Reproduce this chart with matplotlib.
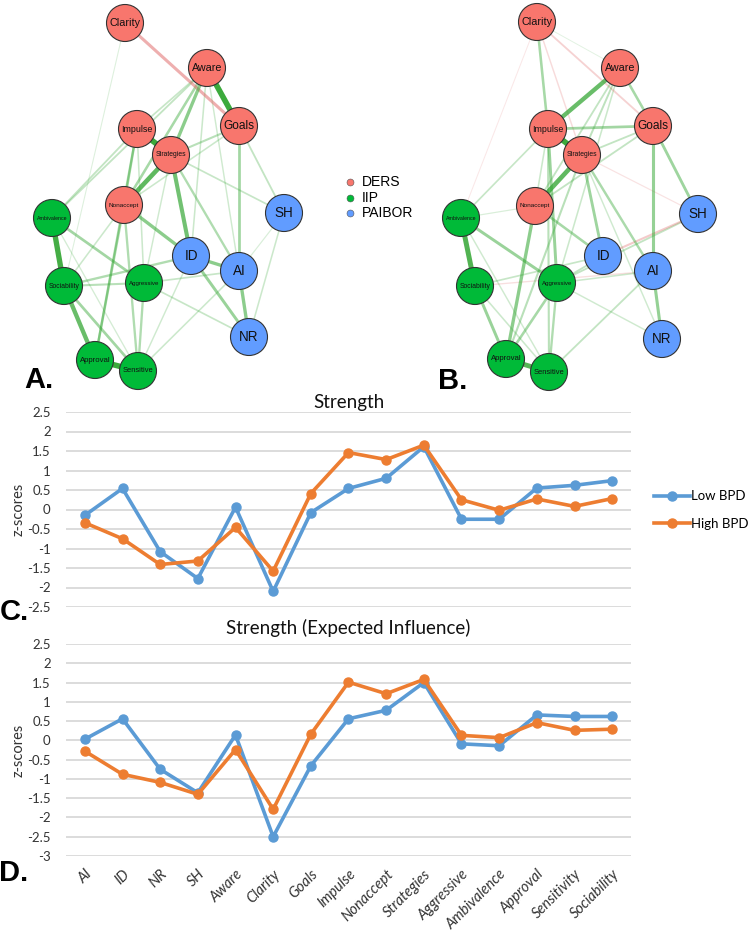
import numpy as np
import matplotlib
matplotlib.use("Agg")
import matplotlib.pyplot as plt
from matplotlib.patches import Circle
from matplotlib.lines import Line2D
from matplotlib.textpath import TextPath
from matplotlib.font_manager import FontProperties

# ==========================================================
# DONNÉES
# ==========================================================

items = ['AI', 'ID', 'NR', 'SH', 'Aware', 'Clarity', 'Goals', 'Impulse',
         'Nonaccept', 'Strategies', 'Aggressive', 'Ambivalence', 'Approval',
         'Sensitivity', 'Sociability']

strength_low = [-0.15, 0.54, -1.08, -1.77, 0.06, -2.10, -0.08, 0.54,
                0.80, 1.61, -0.25, -0.25, 0.55, 0.62, 0.74]
strength_high = [-0.34, -0.75, -1.41, -1.32, -0.46, -1.58, 0.41, 1.46,
                 1.28, 1.65, 0.25, -0.02, 0.27, 0.08, 0.28]

ei_low = [0.03, 0.56, -0.75, -1.36, 0.14, -2.50, -0.66, 0.56,
          0.78, 1.50, -0.09, -0.14, 0.66, 0.62, 0.62]
ei_high = [-0.28, -0.88, -1.09, -1.40, -0.24, -1.79, 0.16, 1.51,
           1.21, 1.58, 0.13, 0.07, 0.46, 0.26, 0.29]

yticks_c = [2.5, 2, 1.5, 1, 0.5, 0, -0.5, -1, -1.5, -2, -2.5]
yticks_d = [2.5, 2, 1.5, 1, 0.5, 0, -0.5, -1, -1.5, -2, -2.5, -3]

# Réseaux : noeuds, groupes et disposition (pixels)
nodes = ['Aware', 'Clarity', 'Goals', 'Impulse', 'Nonaccept', 'Strategies',
         'Aggressive', 'Ambivalence', 'Approval', 'Sensitive', 'Sociability',
         'AI', 'ID', 'NR', 'SH']
groups = ['DERS'] * 6 + ['IIP'] * 5 + ['PAIBOR'] * 4

layout_a = {'Clarity': (125, 23), 'Aware': (207, 68), 'Goals': (239, 126),
            'Impulse': (137, 129), 'Strategies': (171, 155), 'Nonaccept': (124, 205),
            'Ambivalence': (52, 218), 'SH': (284, 213), 'ID': (191, 256),
            'AI': (239, 271), 'Sociability': (64, 286), 'Aggressive': (144, 283),
            'NR': (249, 337), 'Approval': (95, 360), 'Sensitive': (138, 371)}

layout_b = {'Clarity': (537, 22), 'Aware': (620, 68), 'Goals': (653, 126),
            'Impulse': (548, 129), 'Strategies': (582, 155), 'Nonaccept': (535, 206),
            'Ambivalence': (461, 218), 'SH': (698, 214), 'ID': (603, 256),
            'AI': (653, 271), 'Sociability': (475, 286), 'Aggressive': (557, 283),
            'NR': (662, 339), 'Approval': (506, 359), 'Sensitive': (549, 372)}

edges_a = [
    ('Aware', 'Goals', 0.38), ('Clarity', 'Goals', -0.18),
    ('Impulse', 'Strategies', 0.38), ('Strategies', 'Nonaccept', 0.30),
    ('Strategies', 'ID', 0.26), ('Ambivalence', 'Sociability', 0.36),
    ('Sociability', 'Approval', 0.28), ('Approval', 'Sensitive', 0.38),
    ('Nonaccept', 'ID', 0.20), ('ID', 'AI', 0.20), ('AI', 'NR', 0.20),
    ('ID', 'NR', 0.17), ('Goals', 'AI', 0.15), ('Aware', 'Strategies', 0.20),
    ('Aware', 'Nonaccept', 0.14), ('Aware', 'Ambivalence', 0.08),
    ('Aware', 'Impulse', 0.07), ('Aware', 'ID', 0.06), ('Aware', 'AI', 0.05),
    ('Impulse', 'Nonaccept', 0.13), ('Impulse', 'Approval', 0.12),
    ('Impulse', 'Aggressive', 0.06), ('Goals', 'Strategies', 0.10),
    ('Goals', 'Nonaccept', 0.06), ('Goals', 'SH', 0.08),
    ('Strategies', 'SH', 0.07), ('Strategies', 'AI', 0.12),
    ('Ambivalence', 'Aggressive', 0.15), ('Ambivalence', 'Impulse', 0.08),
    ('Sociability', 'Aggressive', 0.10), ('Sociability', 'ID', 0.12),
    ('Sociability', 'Sensitive', 0.15), ('Nonaccept', 'Approval', 0.13),
    ('Nonaccept', 'Sensitive', 0.12), ('Nonaccept', 'Sociability', 0.06),
    ('Aggressive', 'Sensitive', 0.12), ('Aggressive', 'AI', 0.07),
    ('Aggressive', 'NR', 0.07), ('Sensitive', 'AI', 0.06),
    ('Sensitive', 'ID', 0.05), ('SH', 'AI', 0.03), ('SH', 'NR', 0.06),
    ('Clarity', 'Sociability', 0.02), ('Ambivalence', 'Sensitive', 0.04),
    ('Strategies', 'Aggressive', 0.05),
]

edges_b = [
    ('Clarity', 'Impulse', 0.14), ('Clarity', 'Strategies', -0.05),
    ('Clarity', 'Goals', -0.08), ('Clarity', 'Ambivalence', -0.015),
    ('Clarity', 'Aware', 0.01), ('Aware', 'Impulse', 0.28),
    ('Aware', 'Goals', 0.14), ('Aware', 'Strategies', 0.09),
    ('Aware', 'Nonaccept', 0.08), ('Aware', 'Aggressive', 0.06),
    ('Impulse', 'Goals', 0.15), ('Impulse', 'Strategies', 0.38),
    ('Strategies', 'Nonaccept', 0.30), ('Goals', 'AI', 0.18),
    ('Goals', 'SH', 0.16), ('Goals', 'Strategies', 0.08),
    ('Goals', 'Nonaccept', 0.08), ('Impulse', 'Aggressive', 0.17),
    ('Impulse', 'Sensitive', 0.10), ('Impulse', 'Nonaccept', 0.06),
    ('Nonaccept', 'Approval', 0.20), ('Nonaccept', 'ID', 0.14),
    ('Strategies', 'ID', 0.16), ('Strategies', 'AI', 0.13),
    ('Strategies', 'NR', 0.05), ('Strategies', 'Approval', 0.10),
    ('Strategies', 'SH', -0.03), ('SH', 'ID', -0.10),
    ('SH', 'Aggressive', 0.08), ('AI', 'NR', 0.18),
    ('Ambivalence', 'Sociability', 0.33), ('Ambivalence', 'Aggressive', 0.17),
    ('Ambivalence', 'Impulse', 0.07), ('Ambivalence', 'Nonaccept', 0.03),
    ('Sociability', 'Approval', 0.17), ('Approval', 'Sensitive', 0.32),
    ('Aggressive', 'Approval', 0.14), ('Aggressive', 'Sensitive', 0.12),
    ('Aggressive', 'ID', 0.08), ('Aggressive', 'AI', 0.06),
    ('Sociability', 'ID', 0.07), ('Sociability', 'AI', -0.04),
    ('Sensitive', 'AI', 0.08), ('Aggressive', 'NR', 0.05),
    ('Ambivalence', 'Sensitive', 0.05), ('Sociability', 'Sensitive', 0.06),
]

# ==========================================================
# STYLE
# ==========================================================

W, H = 750, 933
group_colors = {'DERS': '#F8766D', 'IIP': '#00BA38', 'PAIBOR': '#619CFF'}
blue, orange = '#5B9BD5', '#ED7D31'
chart_font = 'Lato'
net_font = 'Liberation Sans'

fig = plt.figure(figsize=(W / 100, H / 100), dpi=100)

# ==========================================================
# RÉSEAUX (A, B)
# ==========================================================

ax_net = fig.add_axes([0, 0, 1, 1])
ax_net.set_xlim(0, W)
ax_net.set_ylim(H, 0)
ax_net.axis('off')

prop_net = FontProperties(family=net_font)


def label_size(label):
    w = TextPath((0, 0), label, size=1, prop=prop_net).get_extents().width
    px = min(13.5, 30.0 / w)
    return px * 72 / 100


def draw_network(layout, edges):
    for a, b, w in sorted(edges, key=lambda e: abs(e[2])):
        x1, y1 = layout[a]
        x2, y2 = layout[b]
        col = (0.2, 0.65, 0.2) if w > 0 else (0.88, 0.40, 0.40)
        alpha = min(1.0, 0.12 + 2.2 * abs(w))
        ax_net.plot([x1, x2], [y1, y2], color=col, alpha=alpha,
                    lw=0.6 + 9 * abs(w), solid_capstyle='butt', zorder=1)
    for name, grp in zip(nodes, groups):
        x, y = layout[name]
        ax_net.add_patch(Circle((x, y), 18.5, facecolor=group_colors[grp],
                                edgecolor='#333333', lw=0.8, zorder=3))
        ax_net.text(x, y, name, ha='center', va='center', family=net_font,
                    fontsize=label_size(name), color='#111111', zorder=4)


draw_network(layout_a, edges_a)
draw_network(layout_b, edges_b)

# légende des groupes
for i, grp in enumerate(['DERS', 'IIP', 'PAIBOR']):
    ax_net.plot(350, 182 + 15.5 * i, 'o', ms=5, color=group_colors[grp],
                mec='#555555', mew=0.4)
    ax_net.text(362, 182 + 15.5 * i, grp, ha='left', va='center',
                family=net_font, fontsize=10)

for lab, (x, y) in {'A.': (39, 380), 'B.': (453, 381),
                    'C.': (14, 612), 'D.': (14, 873)}.items():
    ax_net.text(x, y, lab, ha='center', va='center', family=net_font,
                fontsize=21, fontweight='bold')

# ==========================================================
# GRAPHIQUES C, D
# ==========================================================

x = np.arange(len(items))
left, right = 66, 631


def style_axes(ax, ticks, title, pad):
    ax.set_xlim(-0.5, len(items) - 0.5)
    ax.set_ylim(min(ticks), max(ticks))
    ax.set_yticks(ticks)
    ax.set_yticklabels([f'{t:g}' for t in ticks], family=chart_font,
                       fontsize=9.5, color='#333333')
    ax.yaxis.grid(True, color='#D9D9D9', lw=1.3)
    ax.set_axisbelow(True)
    for s in ax.spines.values():
        s.set_visible(False)
    ax.tick_params(length=0, pad=11)
    ax.set_ylabel('z-scores', family=chart_font, fontsize=10.5, color='#333333')
    ax.yaxis.set_label_coords((26 - left) / (right - left), 0.5)
    ax.set_title(title, family=chart_font, fontsize=13.5, pad=pad, color='#111111')
    ax.patch.set_alpha(0)


ax_c = fig.add_axes([left / W, 1 - 607 / H, (right - left) / W, 195 / H])
ax_c.plot(x, strength_low, '-o', color=blue, lw=2.6, ms=6.5, label='Low BPD')
ax_c.plot(x, strength_high, '-o', color=orange, lw=2.6, ms=6.5, label='High BPD')
style_axes(ax_c, yticks_c, 'Strength', 3)
ax_c.set_xticks([])

ax_d = fig.add_axes([left / W, 1 - 856 / H, (right - left) / W, 212 / H])
ax_d.plot(x, ei_low, '-o', color=blue, lw=2.6, ms=6.5)
ax_d.plot(x, ei_high, '-o', color=orange, lw=2.6, ms=6.5)
style_axes(ax_d, yticks_d, 'Strength (Expected Influence)', 7)
ax_d.set_xticks(x)
ax_d.set_xticklabels(items, rotation=45, ha='right', rotation_mode='anchor',
                     family=chart_font, fontsize=10.5, style='italic',
                     color='#333333')
ax_d.tick_params(axis='x', pad=8)

handles = [Line2D([], [], color=blue, lw=2.6, marker='o', ms=6.5),
           Line2D([], [], color=orange, lw=2.6, marker='o', ms=6.5)]
fig.legend(handles, ['Low BPD', 'High BPD'], loc='center left',
           bbox_to_anchor=(654 / W, 1 - 510 / H), frameon=False,
           prop={'family': chart_font, 'size': 9.5}, handlelength=2.7,
           handletextpad=0.1, labelspacing=1.15, borderpad=0, borderaxespad=0)

fig.savefig('out.png', dpi=100)
